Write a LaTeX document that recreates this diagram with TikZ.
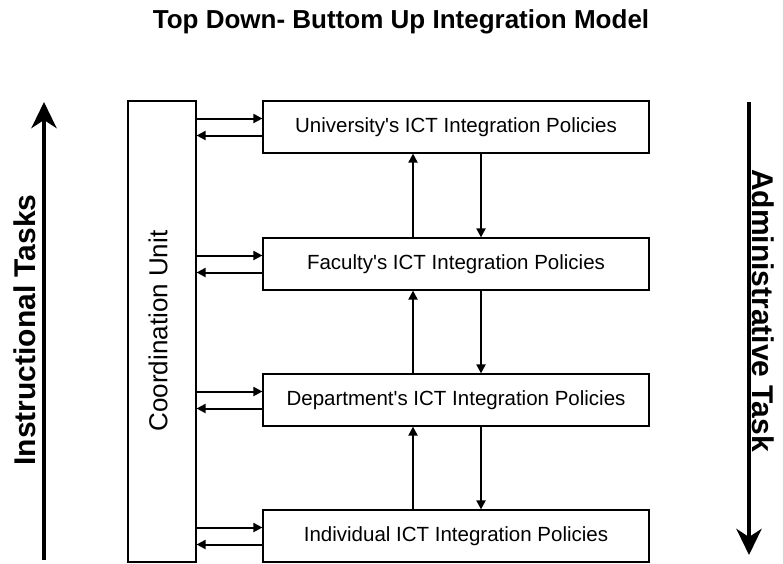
\documentclass[tikz,border=0pt]{standalone}
\usepackage{fontspec}
\setmainfont{Liberation Sans}
\usetikzlibrary{arrows.meta,calc}
\begin{document}
\begin{tikzpicture}[x=1pt,y=-1pt,
  box/.style={draw, line width=1.2pt, minimum width=386pt, minimum height=52pt, inner sep=0pt, font=\fontsize{20.5}{24}\selectfont},
  cubox/.style={draw, line width=1.2pt, minimum width=68pt, minimum height=461pt, inner sep=0pt},
  sarrow/.style={line width=2pt, -{Triangle[length=9pt,width=9pt]}},
  barrow/.style={line width=4.5pt, -{Stealth[length=26pt,width=25pt,inset=8pt]}},
  sidelabel/.style={font=\fontsize{30}{34}\selectfont\bfseries, inner sep=0pt},
]
\useasboundingbox (0,0) rectangle (783,563);
% title
\node[anchor=base, inner sep=0pt, font=\fontsize{26}{30}\selectfont\bfseries] (title) at (401,28) {Top Down- Buttom Up Integration Model};
% coordination unit
\node[cubox] (cu) at (162,331.5) {};
\node[rotate=90, inner sep=0pt, font=\fontsize{26}{30}\selectfont] (cutext) at (158,331) {Coordination Unit};
% policy boxes
\node[box] (u) at (456,127) {University\textquotesingle s ICT Integration Policies};
\node[box] (f) at (456,264) {Faculty\textquotesingle s ICT Integration Policies};
\node[box] (d) at (456,400) {Department\textquotesingle s ICT Integration Policies};
\node[box] (i) at (456,536) {Individual ICT Integration Policies};
% arrows between coordination unit and boxes
\foreach \b in {u,f,d,i}{
  \draw[sarrow] ($(\b.west -| cu.east)+(0,8.5pt)$) -- ($(\b.west)+(0,8.5pt)$);
  \draw[sarrow] ($(\b.west)+(0,-8.5pt)$) -- ($(\b.west -| cu.east)+(0,-8.5pt)$);
}
% vertical arrows between boxes
\foreach \lo/\hi in {f/u,d/f,i/d}{
  \draw[sarrow] ($(\lo.north)+(-43pt,0)$) -- ($(\hi.south)+(-43pt,0)$);
  \draw[sarrow] ($(\hi.south)+(25pt,0)$) -- ($(\lo.north)+(25pt,0)$);
}
% big side arrows
\coordinate (lb) at (44,560);
\coordinate (lt) at (44,102);
\coordinate (rt) at (749,102);
\coordinate (rb) at (749,555);
\draw[barrow] (lb) -- (lt);
\draw[barrow] (rt) -- (rb);
\node[sidelabel, rotate=90] (instr) at (25,330) {Instructional Tasks};
\node[sidelabel, rotate=-90] (admin) at (763,310.5) {Administrative Task};
\end{tikzpicture}
\end{document}
